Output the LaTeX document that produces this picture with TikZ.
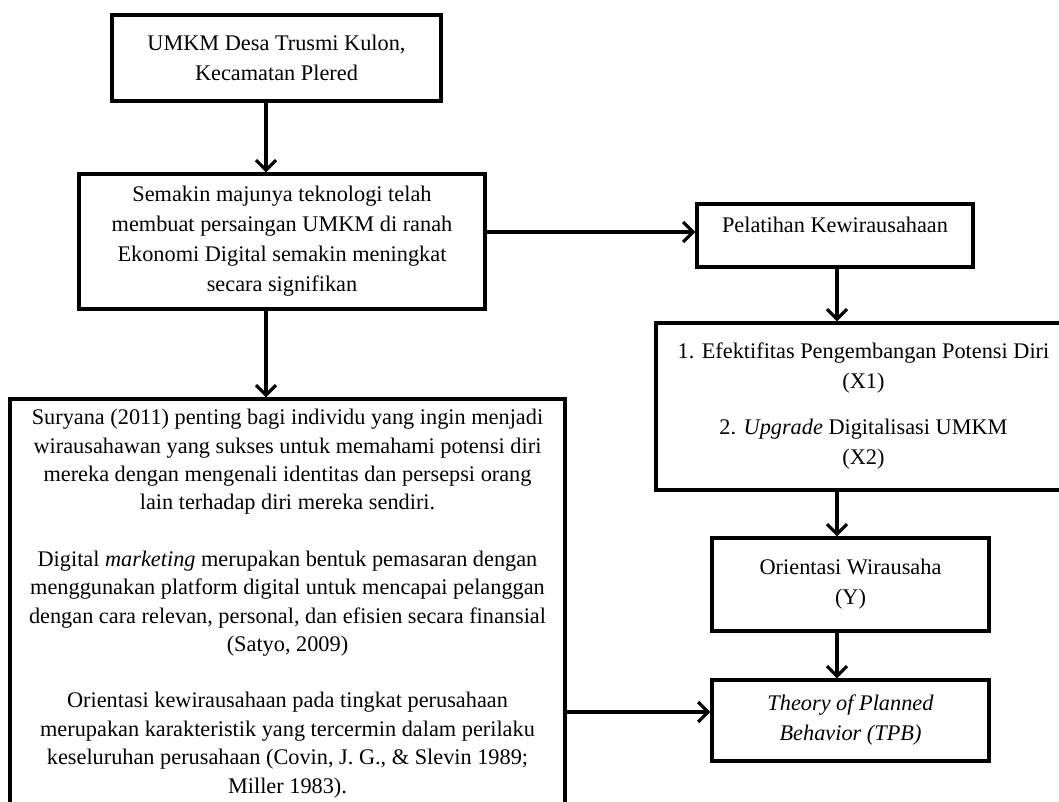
\documentclass[tikz,border=0pt]{standalone}
\usepackage{fontspec}
\setmainfont{Liberation Serif}
\usetikzlibrary{arrows.meta}
\tikzset{
  box/.style={
    draw=black,
    line width=1.6pt,
    align=center,
    inner sep=0pt,
    font=\fontsize{11.15}{15}\selectfont
  },
  arr/.style={
    line width=1.6pt,
    -{Straight Barb[length=5pt,width=10pt]}
  }
}

\begin{document}
\begin{tikzpicture}[x=0.5pt,y=-0.5pt]
  \useasboundingbox (0,0) rectangle (1059,802);
  \node[box, minimum width=164.5pt, minimum height=43pt] (umkm) at (276.5,58)
    {UMKM Desa Trusmi Kulon,\\ Kecamatan Plered};
  \node[box, minimum width=203pt, minimum height=67.5pt] (tren) at (282,241.5)
    {Semakin majunya teknologi telah\\ membuat persaingan UMKM di ranah\\
     Ekonomi Digital semakin meningkat\\ secara signifikan};
  \node[box, minimum width=138pt, minimum height=31.5pt] (latih) at (835,235.5)
    {Pelatihan Kewirausahaan\\[-9pt]\strut};
  \node[box, minimum width=207.5pt, minimum height=83.5pt] (efek) at (863.5,406.5)
    {1. Efektifitas Pengembangan Potensi Diri\\ (X1)\\[8pt]
     2. \textit{Upgrade} Digitalisasi UMKM\\ (X2)};
  \node[box, minimum width=277.5pt, minimum height=204.5pt,
    font=\fontsize{11.15}{14.2}\selectfont] (kajian) at (287.5,603.5)
    {Suryana (2011) penting bagi individu yang ingin menjadi\\
     wirausahawan yang sukses untuk memahami potensi diri\\
     mereka dengan mengenali identitas dan persepsi orang\\
     lain terhadap diri mereka sendiri.\\[14pt]
     Digital \textit{marketing} merupakan bentuk pemasaran dengan\\
     menggunakan platform digital untuk mencapai pelanggan\\
     dengan cara relevan, personal, dan efisien secara finansial\\
     (Satyo, 2009)\\[14pt]
     Orientasi kewirausahaan pada tingkat perusahaan\\
     merupakan karakteristik yang tercermin dalam perilaku\\
     keseluruhan perusahaan (Covin, J. G., \& Slevin 1989;\\
     Miller 1983).};
  \node[box, minimum width=138.5pt, minimum height=46.5pt] (orient) at (850.5,584.5)
    {Orientasi Wirausaha\\ (Y)};
  \node[box, minimum width=138.5pt, minimum height=40.5pt] (tpb) at (850.5,720.5)
    {\textit{Theory of Planned}\\ \textit{Behavior (TPB)}};
  \coordinate (spineL) at (266,0);
  \coordinate (spineR) at (837,0);
  \coordinate (rowP) at (0,232);
  \coordinate (rowT) at (0,712);
  \draw[arr] (umkm.south -| spineL) -- (tren.north -| spineL);
  \draw[arr] (tren.south -| spineL) -- (kajian.north -| spineL);
  \draw[arr] (tren.east |- rowP) -- (latih.west |- rowP);
  \draw[arr] (latih.south -| spineR) -- (efek.north -| spineR);
  \draw[arr] (efek.south -| spineR) -- (orient.north -| spineR);
  \draw[arr] (orient.south -| spineR) -- (tpb.north -| spineR);
  \draw[arr] (kajian.east |- rowT) -- (tpb.west |- rowT);
\end{tikzpicture}
\end{document}
